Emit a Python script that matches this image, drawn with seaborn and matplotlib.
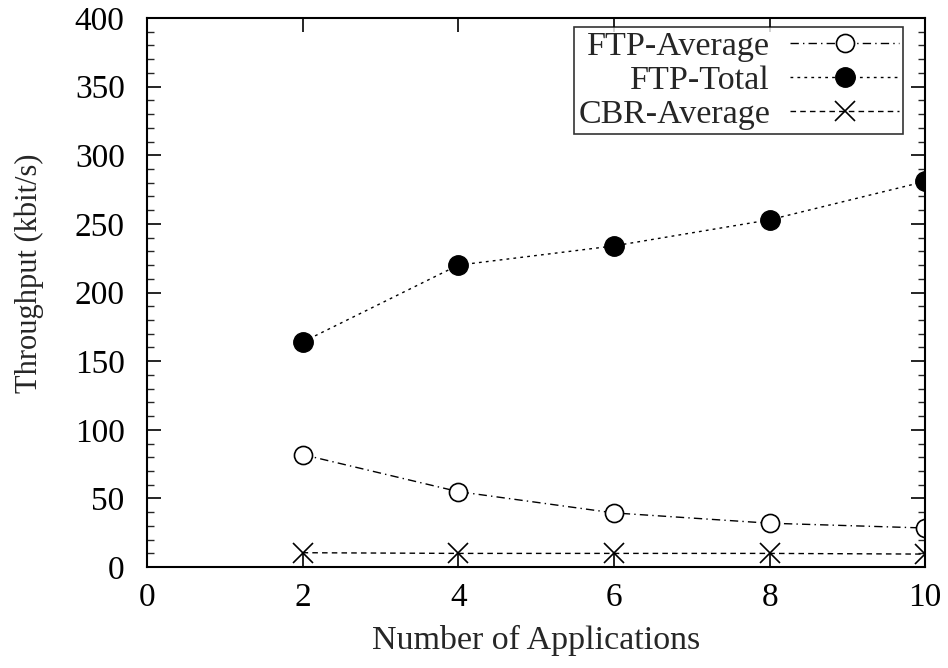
import matplotlib
matplotlib.use("Agg")
import matplotlib.pyplot as plt
import seaborn as sns
import pandas as pd
from matplotlib.ticker import MultipleLocator

apps = [2, 4, 6, 8, 10]
ftp_avg = [82, 55, 39.5, 32, 28.5]
ftp_total = [164, 220, 234, 253, 281]
cbr_avg = [10.5, 10, 10, 10, 9.5]
series_names = ["FTP-Average", "FTP-Total", "CBR-Average"]

sns.set_style("ticks")
plt.rcParams['font.family'] = ['Liberation Serif', 'DejaVu Serif']

fig = plt.figure(figsize=(9.48, 6.68), dpi=100)
ax = fig.add_axes([0.155, 0.151, 0.821, 0.822])

styles = [
    dict(linestyle=(0, (6, 3, 1, 3)), marker='o', markerfacecolor='white', markersize=13,
         markeredgewidth=1.2),
    dict(linestyle=(0, (2, 3)), marker='o', markerfacecolor='black', markersize=14,
         markeredgewidth=1.0),
    dict(linestyle=(0, (4, 3)), marker='x', markersize=14, markeredgewidth=1.2),
]
for name, vals, st in zip(series_names, [ftp_avg, ftp_total, cbr_avg], styles):
    df = pd.DataFrame({"apps": apps, "thr": vals})
    sns.lineplot(data=df, x="apps", y="thr", ax=ax, color='black', linewidth=1.0,
                 markeredgecolor='black', label=name, **st)

ax.set_xlim(0, 10)
ax.set_ylim(0, 400)
ax.xaxis.set_major_locator(MultipleLocator(2))
ax.yaxis.set_major_locator(MultipleLocator(50))
ax.yaxis.set_minor_locator(MultipleLocator(10))
ax.tick_params(axis='both', which='major', direction='in', length=10, width=1.2,
               top=True, right=True, labelsize=24, colors='black')
ax.tick_params(axis='x', which='major', pad=11)
ax.tick_params(axis='y', which='major', pad=16)
ax.tick_params(axis='y', which='minor', direction='in', length=5, width=1.0,
               left=True, right=True)
for s in ax.spines.values():
    s.set_linewidth(1.5)
    s.set_color('black')

ax.set_xlabel("Number of Applications", fontsize=24.5, labelpad=9)
ax.set_ylabel("Throughput (kbit/s)", fontsize=22)
ax.yaxis.set_label_coords(-0.132, 0.536)

leg = ax.legend(loc='upper right', bbox_to_anchor=(0.972, 0.984), markerfirst=False,
                prop={'size': 24.5}, frameon=True, fancybox=False, edgecolor='black',
                handlelength=3.2, handletextpad=0.6, labelspacing=0.1,
                borderpad=0.12, borderaxespad=0.0)
leg.get_frame().set_linewidth(1.2)

fig.savefig("out.png", dpi=100)
